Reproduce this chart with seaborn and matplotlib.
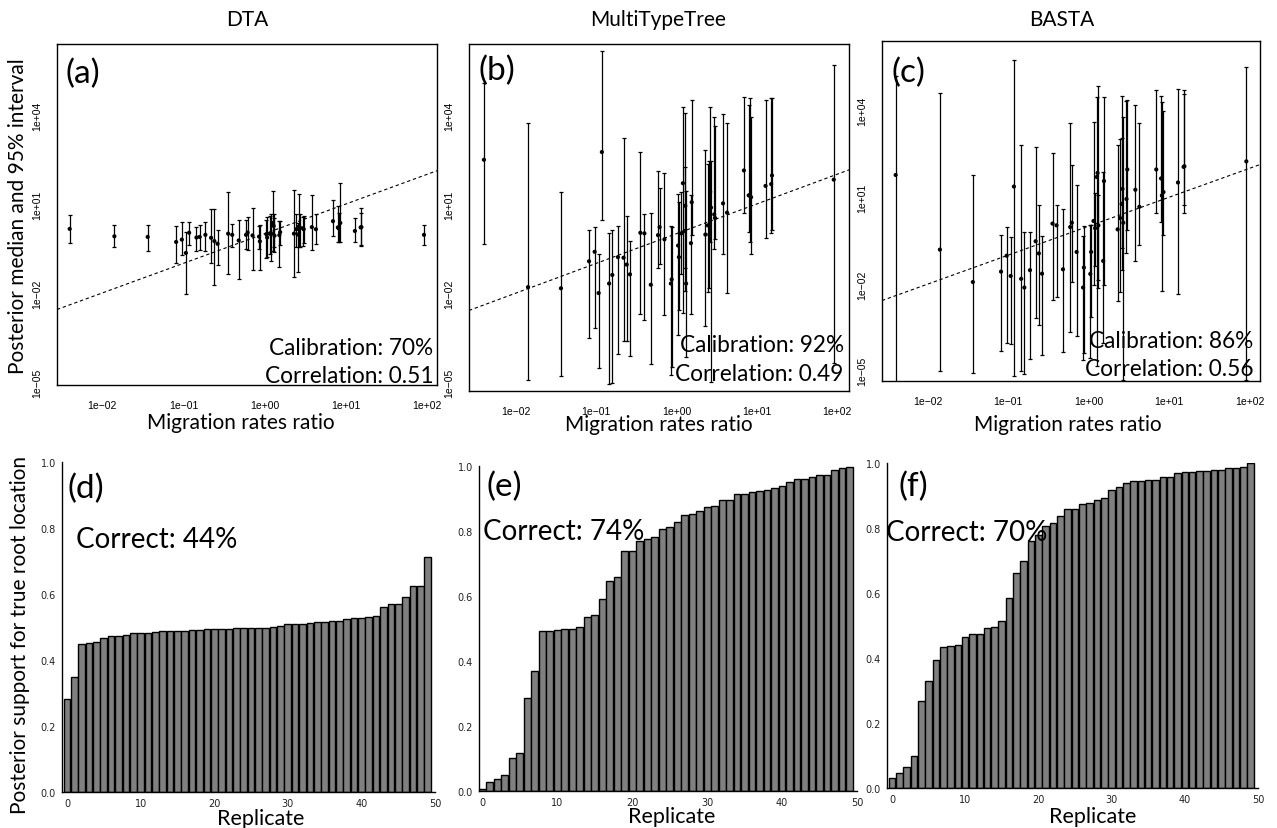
import numpy as np
import pandas as pd
import matplotlib
matplotlib.use("Agg")
import matplotlib.pyplot as plt
import seaborn as sns

# ---------------- data ----------------
# true migration-rate ratio (log10), shared by panels a-c
ratio_log10 = [-2.40, -1.85, -1.44, -1.09, -1.02, -0.97, -0.93, -0.84, -0.80, -0.73,
               -0.66, -0.62, -0.58, -0.45, -0.40, -0.32, -0.23, -0.21, -0.15, -0.07,
               -0.06, 0.02, 0.03, 0.06, 0.08, 0.10, 0.11, 0.12, 0.18, 0.19,
               0.36, 0.39, 0.41, 0.42, 0.43, 0.47, 0.48, 0.58, 0.63, 0.84,
               0.90, 0.91, 0.93, 1.11, 1.18, 1.19, 1.96]

# DTA (log10 posterior median, lower, upper)
dta_med = [0.16, -0.09, -0.11, -0.28, -0.20, -0.65, 0.03, -0.13, -0.11, -0.04,
           -0.14, -0.25, -0.34, 0.00, -0.04, -0.23, -0.04, 0.04, -0.06, -0.10,
           -0.26, -0.02, -0.13, 0.00, 0.00, 0.36, 0.26, -0.07, -0.05, 0.05,
           0.00, 0.15, -0.03, 0.24, 0.22, 0.18, 0.15, 0.22, 0.15, 0.42,
           0.21, 0.18, 0.36, 0.09, 0.21, 0.22, -0.04]
dta_lo = [-0.30, -0.46, -0.59, -1.00, -0.73, -2.03, -0.37, -0.58, -0.54, -0.58,
          -1.00, -1.72, -1.07, -1.37, -0.46, -1.53, -0.53, -0.55, -1.23, -0.51,
          -1.23, -0.83, -0.79, -0.69, -0.93, -0.58, -0.46, -0.63, -1.12, -0.37,
          -1.45, -0.46, -1.30, -0.46, -0.46, -0.41, -0.32, -0.55, -0.34, -0.09,
          -0.28, -0.28, -0.28, -0.28, -0.37, -0.40, -0.38]
dta_hi = [0.63, 0.30, 0.30, 0.26, 0.38, 0.05, 0.38, 0.24, 0.28, 0.38,
          0.82, 0.82, 0.12, 1.39, 0.32, 0.45, 0.45, 0.56, 0.88, 0.26,
          0.30, 0.45, 0.57, 0.61, 0.65, 1.43, 0.65, 0.53, 0.42, 0.42,
          1.47, 0.65, 0.36, 1.33, 0.65, 0.56, 0.59, 1.29, 0.65, 1.12,
          0.94, 0.71, 1.70, 0.53, 0.71, 0.85, 0.30]

# MultiTypeTree
mtt_med = [2.49, -1.80, -1.84, -0.93, -0.61, -2.00, 2.75, -1.68, -1.39, -0.79,
           -0.81, -1.04, -1.37, 0.03, 0.01, -1.72, -0.05, 0.22, -0.19, -1.68,
           -1.54, -0.40, -0.79, 0.01, 1.70, 0.09, 0.94, -1.68, -0.32, 1.06,
           -0.03, 0.28, -0.03, 1.41, 0.88, 0.65, 0.53, 1.02, 0.71, 2.13,
           1.29, 1.29, 1.23, 1.61, 1.67, 1.96, 1.82]
mtt_lo = [-0.34, -4.92, -4.80, -3.53, -3.18, -4.52, 0.45, -5.07, -5.03, -4.05,
          -3.63, -3.61, -4.13, -2.70, -2.91, -4.40, -1.16, -1.02, -2.73, -4.75,
          -4.48, -3.41, -2.56, -1.37, -2.68, -1.16, -1.92, -4.17, -2.70, -0.05,
          -3.12, -1.95, -1.84, -0.28, -5.00, -0.52, -0.17, -0.67, -2.00, 0.71,
          0.07, -0.28, -0.67, -0.14, 0.03, 0.12, -4.37]
mtt_hi = [5.08, 3.74, 1.41, 0.12, 0.24, -0.67, 6.17, 0.01, 0.12, 0.26,
          3.22, 0.61, -0.26, 2.75, 0.65, 0.71, 2.11, 1.55, 2.05, 0.26,
          0.24, 1.35, 1.06, 1.41, 4.27, 4.06, 2.23, 1.43, 1.29, 4.50,
          2.81, 2.34, 2.46, 4.27, 2.46, 3.92, 3.63, 4.03, 3.74, 4.62,
          4.33, 4.58, 3.92, 4.50, 4.56, 4.56, 5.67]

# BASTA
basta_med = [1.77, -0.81, -1.93, -1.57, -1.02, -1.72, 1.37, -1.82, -2.12, -1.52,
             -0.52, -0.94, -1.64, 0.09, 0.03, -1.49, -0.03, 0.12, -0.89, -2.12,
             -1.43, -1.65, -0.89, 0.18, -0.07, 1.70, 1.84, 0.03, -1.20, 1.56,
             -0.11, 0.28, 0.77, 1.29, 0.12, 0.94, 1.96, 1.26, 0.67, 1.96,
             1.65, 1.06, 1.18, 1.51, 2.05, 2.07, 2.24]
basta_lo = [-5.37, -5.02, -5.07, -4.32, -4.02, -4.08, -5.19, -4.99, -5.11, -4.58,
            -3.18, -3.42, -4.46, -2.56, -2.45, -4.35, -3.65, -1.94, -3.79, -4.64,
            -4.37, -4.55, -3.15, -2.04, -1.39, -4.84, -1.86, -2.15, -4.02, -2.04,
            -2.60, -2.27, -0.75, -1.50, -5.31, -0.93, -0.13, -1.20, -0.64, 0.47,
            0.16, -2.24, -0.29, -2.33, 0.74, 0.47, -5.31]
basta_hi = [5.20, 4.60, 1.76, -0.29, -0.02, -0.36, 5.73, 2.79, -0.19, -0.19,
            2.72, 0.73, -0.34, 2.54, 0.73, 0.59, 3.55, 2.13, 1.44, -0.34,
            0.01, 0.03, 0.04, 3.61, 1.15, 4.45, 4.83, 1.08, 1.88, 4.47,
            2.81, 3.01, 3.04, 4.50, 3.78, 4.33, 4.35, 4.18, 3.57, 4.71,
            4.50, 4.29, 3.98, 4.74, 4.71, 4.56, 5.50]

# posterior support for true root location, per replicate (sorted)
dta_root = [0.283, 0.347, 0.448, 0.453, 0.454, 0.468, 0.474, 0.474, 0.476, 0.481,
            0.482, 0.483, 0.484, 0.489, 0.489, 0.489, 0.489, 0.490, 0.492, 0.493,
            0.493, 0.494, 0.495, 0.496, 0.496, 0.497, 0.497, 0.498, 0.501, 0.504,
            0.508, 0.510, 0.510, 0.511, 0.514, 0.516, 0.517, 0.518, 0.525, 0.526,
            0.527, 0.530, 0.532, 0.562, 0.569, 0.571, 0.590, 0.623, 0.623, 0.713]
mtt_root = [0.007, 0.028, 0.038, 0.049, 0.103, 0.118, 0.286, 0.370, 0.491, 0.493,
            0.496, 0.498, 0.498, 0.504, 0.536, 0.543, 0.591, 0.647, 0.658, 0.737,
            0.737, 0.769, 0.776, 0.783, 0.805, 0.811, 0.829, 0.848, 0.851, 0.861,
            0.873, 0.877, 0.894, 0.894, 0.913, 0.913, 0.919, 0.922, 0.925, 0.933,
            0.937, 0.951, 0.959, 0.961, 0.967, 0.973, 0.973, 0.987, 0.994, 0.997]
basta_root = [0.031, 0.047, 0.065, 0.097, 0.269, 0.328, 0.395, 0.435, 0.437, 0.440,
              0.466, 0.474, 0.474, 0.493, 0.495, 0.515, 0.584, 0.662, 0.698, 0.761,
              0.779, 0.805, 0.816, 0.838, 0.857, 0.859, 0.873, 0.877, 0.887, 0.891,
              0.917, 0.927, 0.939, 0.946, 0.946, 0.948, 0.949, 0.956, 0.958, 0.969,
              0.973, 0.973, 0.975, 0.976, 0.977, 0.978, 0.984, 0.985, 0.987, 0.999]

methods = ["DTA", "MultiTypeTree", "BASTA"]
panel_letters = ["(a)", "(b)", "(c)", "(d)", "(e)", "(f)"]
calibration = ["Calibration: 70%", "Calibration: 92%", "Calibration: 86%"]
correlation = ["Correlation: 0.51", "Correlation: 0.49", "Correlation: 0.56"]
correct = ["Correct: 44%", "Correct: 74%", "Correct: 70%"]
log_xticks = [1e-2, 1e-1, 1e0, 1e1, 1e2]
log_xticklabels = ["1e\u221202", "1e\u221201", "1e+00", "1e+01", "1e+02"]
log_yticks = [1e-5, 1e-2, 1e1, 1e4]
log_yticklabels = ["1e\u221205", "1e\u221202", "1e+01", "1e+04"]
bar_ticks = [0, 10, 20, 30, 40, 50]
bar_yticks = [0.0, 0.2, 0.4, 0.6, 0.8, 1.0]

# ---------------- figure ----------------
sns.set_style("white")
plt.rcParams["font.family"] = ["Lato", "DejaVu Sans"]
plt.rcParams["text.color"] = "black"
plt.rcParams["axes.labelcolor"] = "black"
plt.rcParams["xtick.color"] = "black"
plt.rcParams["ytick.color"] = "black"

W, H = 1277, 829
fig = plt.figure(figsize=(W / 100, H / 100), dpi=100)


def px_axes(l, t, r, b):
    return fig.add_axes([l / W, 1 - b / H, (r - l) / W, (b - t) / H])


def ftext(x, y, s, **kw):
    fig.text(x / W, 1 - y / H, s, **kw)


top_boxes = [(57, 45, 437, 386), (469, 45, 849, 392), (882, 42, 1260, 382)]
top_xlim = [(-2.556, 2.12), (-2.586, 2.15), (-2.57, 2.13)]
top_ylim = [(-5.1, 6.39), (-5.3, 6.39), (-5.35, 6.4)]
meds = [dta_med, mtt_med, basta_med]
los = [dta_lo, mtt_lo, basta_lo]
his = [dta_hi, mtt_hi, basta_hi]
letter_pos = [(0.022, 0.915), (0.026, 0.925), (0.026, 0.908)]
cal_y = [(0.111, 0.028), (0.135, 0.051), (0.118, 0.036)]
cal_x = [0.991, 0.986, 0.982]

xr = np.power(10.0, np.array(ratio_log10))
for i in range(3):
    ax = px_axes(*top_boxes[i])
    med = np.power(10.0, np.array(meds[i]))
    lo = np.power(10.0, np.array(los[i]))
    hi = np.power(10.0, np.array(his[i]))
    ax.set_xscale("log")
    ax.set_yscale("log")
    ax.errorbar(xr, med, yerr=[med - lo, hi - med], fmt="none", ecolor="black",
                elinewidth=0.9, capsize=1.6, capthick=0.9, zorder=2)
    df = pd.DataFrame({"x": xr, "y": med})
    sns.scatterplot(data=df, x="x", y="y", ax=ax, color="black", s=9,
                    edgecolor="none", zorder=3, legend=False)
    lx = np.power(10.0, np.array(top_xlim[i]))
    ax.plot(lx, lx, linestyle=(0, (3, 2.5)), color="black", lw=0.8, zorder=1)
    ax.set_xlim(*np.power(10.0, np.array(top_xlim[i])))
    ax.set_ylim(*np.power(10.0, np.array(top_ylim[i])))
    ax.set_xticks(log_xticks)
    ax.set_xticklabels(log_xticklabels)
    ax.set_yticks(log_yticks)
    ax.set_yticklabels(log_yticklabels, rotation=90, va="center")
    ax.minorticks_off()
    ax.set_xlabel("")
    ax.set_ylabel("")
    ax.tick_params(axis="both", which="major", direction="out", length=5,
                   width=0.8, color="black", pad=6, labelsize=7.5)
    for lab in ax.get_xticklabels() + ax.get_yticklabels():
        lab.set_family(["Liberation Sans", "DejaVu Sans"])
    for sp in ax.spines.values():
        sp.set_visible(True)
        sp.set_color("black")
        sp.set_linewidth(1.0)
    ax.text(letter_pos[i][0], letter_pos[i][1], panel_letters[i], transform=ax.transAxes,
            fontsize=24, ha="left", va="center", zorder=5)
    ax.text(cal_x[i], cal_y[i][0], calibration[i], transform=ax.transAxes,
            fontsize=16.3, ha="right", va="center", zorder=5)
    ax.text(cal_x[i], cal_y[i][1], correlation[i], transform=ax.transAxes,
            fontsize=16.3, ha="right", va="center", zorder=5)

# titles and x labels of top row
title_x = [247, 658, 1062]
for i in range(3):
    ftext(title_x[i], 20, methods[i], fontsize=15, ha="center", va="center")
xlab_pos = [(241, 423), (659, 425), (1068, 425)]
for i in range(3):
    ftext(xlab_pos[i][0], xlab_pos[i][1], "Migration rates ratio", fontsize=15,
          ha="center", va="center")
ftext(18, 216, "Posterior median and 95% interval", fontsize=15, rotation=90,
      ha="center", va="center")

# ---------------- bottom row ----------------
bot_boxes = [(62, 463, 435, 793), (479, 467, 857, 792), (887, 464, 1258, 789)]
bot_xlim = [(-0.68, 50), (-0.45, 50), (-0.68, 50)]
roots = [dta_root, mtt_root, basta_root]
letter_b = [(0.0, 0.922), (0.58, 0.94), (0.9, 0.93)]
correct_pos = [(1.27, 0.767), (0.04, 0.80), (-0.77, 0.787)]
replicate_pos = [(261, 819), (672, 817), (1093, 817)]
for i in range(3):
    ax = px_axes(*bot_boxes[i])
    df = pd.DataFrame({"rep": np.arange(len(roots[i])), "support": roots[i]})
    sns.barplot(data=df, x="rep", y="support", ax=ax, native_scale=True,
                color="#808080", saturation=1, edgecolor="black", linewidth=1.0,
                width=0.9, zorder=2)
    ax.set_xlim(*bot_xlim[i])
    ax.set_ylim(0, 1.0)
    ax.set_xticks(bar_ticks)
    ax.set_xticklabels([str(t) for t in bar_ticks])
    ax.set_yticks(bar_yticks)
    ax.set_yticklabels(["%.1f" % t for t in bar_yticks])
    ax.set_xlabel("")
    ax.set_ylabel("")
    ax.tick_params(axis="both", direction="out", length=3, width=0.8, color="black",
                   pad=1.5, labelsize=7, labelcolor="#222222")
    for lab in ax.get_xticklabels() + ax.get_yticklabels():
        lab.set_family(["DejaVu Sans"])
    ax.spines["top"].set_visible(False)
    ax.spines["right"].set_visible(False)
    ax.spines["left"].set_color("black")
    ax.spines["bottom"].set_color("black")
    ax.spines["left"].set_linewidth(1.0)
    ax.spines["bottom"].set_linewidth(1.0)
    ax.text(letter_b[i][0], letter_b[i][1], panel_letters[3 + i], fontsize=24,
            ha="left", va="center", zorder=5)
    ax.text(correct_pos[i][0], correct_pos[i][1], correct[i], fontsize=20,
            ha="left", va="center", zorder=5)
    ftext(replicate_pos[i][0], replicate_pos[i][1], "Replicate", fontsize=15.5,
          ha="center", va="center")

ftext(20, 635, "Posterior support for true root location", fontsize=15, rotation=90,
      ha="center", va="center")

fig.savefig("out.png", dpi=100)
